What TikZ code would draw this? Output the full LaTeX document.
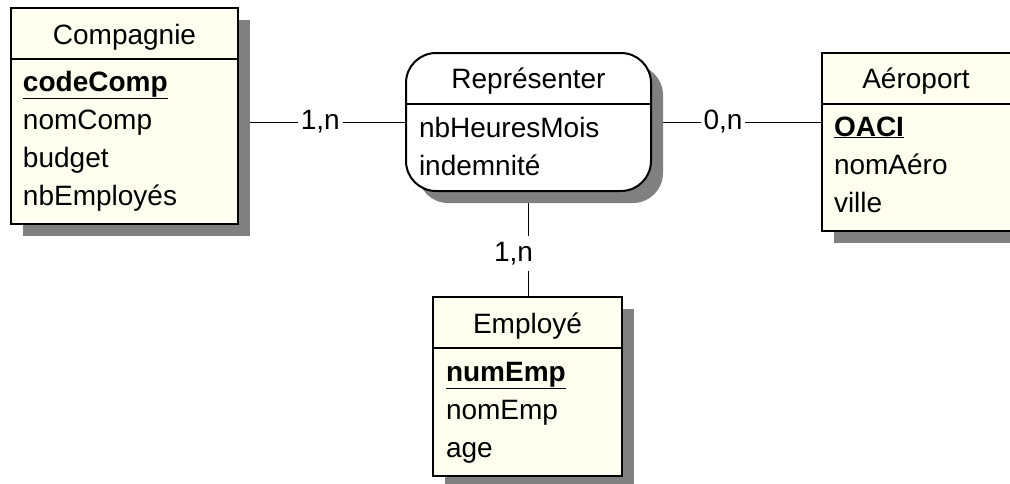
\documentclass[tikz,border=0pt]{standalone}
\usepackage{fontspec}
\setmainfont{Liberation Sans}
\usetikzlibrary{shadows,positioning}
\definecolor{cream}{RGB}{255,255,240}
\definecolor{shadowgray}{RGB}{128,128,128}
\pgfdeclarelayer{bg}
\pgfsetlayers{bg,main}

\begin{document}
\begin{tikzpicture}[x=1pt, y=1pt, line width=2pt,
    box/.style={draw=black, line width=2pt, anchor=north west, inner sep=0pt,
      drop shadow={shadow xshift=12pt, shadow yshift=-12pt, fill=shadowgray, opacity=1}},
    entity/.style={box, fill=cream},
    relation/.style={box, fill=white, rounded corners=30pt},
    txt/.style={font=\fontsize{28}{34}\selectfont, inner sep=0pt, anchor=base west},
    title/.style={txt, anchor=base},
    card/.style={font=\fontsize{28}{34}\selectfont, fill=white, inner xsep=3pt, inner ysep=6pt}]
    \useasboundingbox (0,0) rectangle (1010,-483);

    % Compagnie
    \node[entity, minimum width=227pt, minimum height=216pt] (comp) at (10,-7) {};
    \draw ([yshift=-52pt]comp.north west) -- ([yshift=-52pt]comp.north east);
    \node[title] (comp-t) at ([yshift=-37pt]comp.north) {Compagnie};
    \node[txt] (comp-0) at ([shift={(12,-84)}]comp.north west) {\underline{\textbf{codeComp}}};
    \foreach \t [count=\i] in {nomComp,budget,nbEmployés}
        \node[txt] (comp-\i) at ([shift={(12,-84-38*\i)}]comp.north west) {\t};

    % Representer
    \node[relation, minimum width=245pt, minimum height=138pt] (rep) at (405,-52) {};
    \draw ([yshift=-52pt]rep.north west) -- ([yshift=-52pt]rep.north east);
    \node[title] (rep-t) at ([yshift=-36pt]rep.north) {Représenter};
    \foreach \t [count=\i] in {nbHeuresMois,indemnité}
        \node[txt] (rep-\i) at ([shift={(13,-47-38*\i)}]rep.north west) {\t};

    % Aeroport (coupe par le bord droit)
    \node[entity, minimum width=200pt, minimum height=178pt] (aero) at (821,-52) {};
    \draw ([yshift=-52pt]aero.north west) -- ([yshift=-52pt]aero.north east);
    \node[title] (aero-t) at ([shift={(-6,-36)}]aero.north) {Aéroport};
    \node[txt] (aero-0) at ([shift={(12,-84)}]aero.north west) {\underline{\textbf{OACI}}};
    \foreach \t [count=\i] in {nomAéro,ville}
        \node[txt] (aero-\i) at ([shift={(12,-84-38*\i)}]aero.north west) {\t};

    % Employe
    \node[entity, minimum width=189pt, minimum height=179pt] (emp) at (432,-296) {};
    \draw ([yshift=-52pt]emp.north west) -- ([yshift=-52pt]emp.north east);
    \node[title] (emp-t) at ([yshift=-37pt]emp.north) {Employé};
    \node[txt] (emp-0) at ([shift={(13,-85)}]emp.north west) {\underline{\textbf{numEmp}}};
    \foreach \t [count=\i] in {nomEmp,age}
        \node[txt] (emp-\i) at ([shift={(13,-85-38*\i)}]emp.north west) {\t};

    % liens
    \begin{pgfonlayer}{bg}
        \draw (comp.east |- rep.west) -- node[card, pos=.49] (c1) {1,n} (rep.west);
        \draw (rep.east) -- node[card, pos=.42] (c2) {0,n} (rep.east -| aero.west);
        \draw (rep.south) -- node[card, pos=.59, xshift=-15pt] (c3) {1,n} (rep.south |- emp.north);
    \end{pgfonlayer}
\end{tikzpicture}
\end{document}
